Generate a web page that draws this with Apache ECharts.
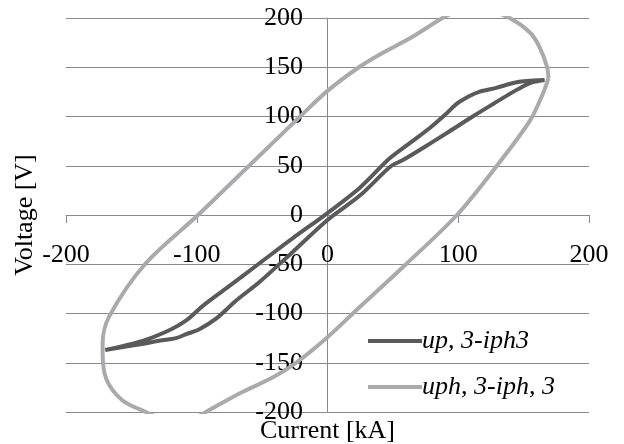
<!DOCTYPE html>
<html>
<head>
<meta charset="utf-8">
<script src="https://cdn.jsdelivr.net/npm/echarts@6/dist/echarts.min.js"></script>
<style>
  html, body { margin: 0; padding: 0; background: #fff; }
  #chart { width: 624px; height: 444px; }
</style>
</head>
<body>
<div id="chart"></div>
<script>
// 数据：电流 [kA] / 电压 [V]
const seriesNames = ['up, 3-iph3', 'uph, 3-iph, 3'];
const xTicks = [-200, -100, 0, 100, 200];
const yTicks = [-200, -150, -100, -50, 0, 50, 100, 150, 200];

// 深灰色回线：上支（左端 -> 右端），再下支回到左端
const loopCurrent = [-170, -142, -121, -108, -96, -77, -52, -27, 0, 25, 48, 65, 78, 91, 99, 109, 116, 129, 142, 152, 166,
  155, 142, 127, 111, 91, 73, 58, 48, 25, 0, -27, -52, -70, -85, -98, -108, -116, -130, -142, -170];
const loopVoltage = [-137, -128, -117, -107, -93, -74, -49, -24, 2, 28, 58, 75, 88, 103, 113, 121, 125, 129, 134, 136, 137,
  134, 125, 113, 100, 83, 68, 56, 49, 20, -5, -38, -68, -87, -105, -116, -121, -125, -128, -131, -137];

// 浅灰色椭圆（从最右点开始逆时针）
const ovalCurrent = [169, 168, 162, 155, 142, 128, 112, 98, 88, 65, 40, 24, 0, -21, -60, -99, -139, -167, -172, -172,
  -169, -157, -139, -126, -112, -100, -93, -67, -42, -25, 0, 21, 60, 99, 129, 155, 165, 169];
const ovalVoltage = [139, 150, 171, 185, 198, 206, 209, 206, 200, 181, 163, 150, 126, 100, 50, 0, -49, -103, -130, -140,
  -167, -188, -200, -207, -209, -205, -200, -181, -165, -151, -124, -98, -50, 0, 49, 96, 124, 139];

function pairs (xs, ys) {
  return xs.map((x, i) => [x, ys[i]]);
}

const myChart = echarts.init(document.getElementById('chart'));
const font = 'Liberation Serif';
const option = {
  animation: false,
  color: ['#5a5a5c', '#a8aaad'],
  grid: {
    left: 66,
    right: 35,
    top: 18,
    bottom: 32,
    containLabel: false,
    outerBoundsMode: 'none'
  },
  legend: {
    orient: 'vertical',
    left: 363,
    top: 323,
    icon: 'rect',
    itemWidth: 54,
    itemHeight: 4,
    itemGap: 20,
    textStyle: {
      fontFamily: font,
      fontStyle: 'italic',
      fontSize: 26,
      color: '#000',
      padding: [0, 0, 0, -5]
    },
    data: seriesNames
  },
  xAxis: {
    type: 'value',
    min: xTicks[0],
    max: xTicks[xTicks.length - 1],
    interval: 100,
    name: 'Current [kA]',
    nameLocation: 'middle',
    nameGap: 6,
    nameTextStyle: { fontFamily: font, fontSize: 26, color: '#000' },
    axisLine: { show: true, onZero: true, lineStyle: { color: '#8a8a8a', width: 1 } },
    axisTick: { show: true, inside: false, length: 8, lineStyle: { color: '#8a8a8a' } },
    // 标签放在 0 轴线下方（相对底边向上偏移）
    axisLabel: { margin: -170, fontFamily: font, fontSize: 26, color: '#000', showMinLabel: true, showMaxLabel: true, hideOverlap: false },
    splitLine: { show: false }
  },
  yAxis: {
    type: 'value',
    min: yTicks[0],
    max: yTicks[yTicks.length - 1],
    interval: 50,
    name: 'Voltage [V]',
    nameLocation: 'middle',
    nameGap: 28,
    nameTextStyle: { fontFamily: font, fontSize: 26, color: '#000' },
    axisLine: { show: true, onZero: true, lineStyle: { color: '#8a8a8a', width: 1 } },
    axisTick: { show: false },
    // 标签放在 0 轴线左侧
    axisLabel: { margin: -237, fontFamily: font, fontSize: 26, color: '#000', showMinLabel: true, showMaxLabel: true, hideOverlap: false },
    splitLine: { show: true, lineStyle: { color: '#8a8a8a', width: 1 } }
  },
  series: [
    {
      name: seriesNames[0],
      type: 'line',
      smooth: 0.3,
      symbol: 'none',
      lineStyle: { width: 4 },
      data: pairs(loopCurrent, loopVoltage)
    },
    {
      name: seriesNames[1],
      type: 'line',
      smooth: 0.3,
      symbol: 'none',
      lineStyle: { width: 4 },
      data: pairs(ovalCurrent, ovalVoltage)
    }
  ]
};
myChart.setOption(option);
window.addEventListener('resize', function () {
  myChart.resize();
});
</script>
</body>
</html>
